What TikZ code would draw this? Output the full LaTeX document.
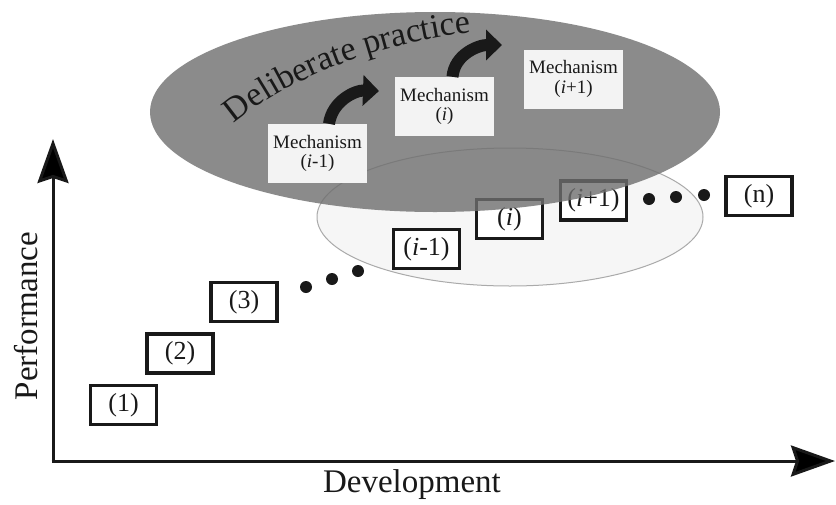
\documentclass[tikz,border=0pt]{standalone}
\usepackage{fontspec}
\setmainfont{Liberation Serif}
\usetikzlibrary{arrows.meta,decorations.text}
\definecolor{dpgray}{RGB}{110,110,110}
\definecolor{lightell}{RGB}{246,246,246}
\definecolor{lightedge}{RGB}{170,170,170}
\definecolor{mechfill}{RGB}{243,243,243}
\definecolor{inkc}{RGB}{25,25,25}
\tikzset{
  stagebox/.style={draw=inkc, line width=3.5pt, fill=white, minimum width=66pt, minimum height=39pt, inner sep=0pt, font=\fontsize{26}{26}\selectfont, text=inkc},
  mechbox/.style={fill=mechfill, minimum width=99pt, minimum height=59pt, inner sep=0pt, align=center, font=\fontsize{19}{19.5}\selectfont, text=inkc},
  stagedot/.style={circle, fill=inkc, minimum size=12pt, inner sep=0pt},
  axisline/.style={line width=3pt, draw=inkc, -{Stealth[length=44pt,width=31pt,inset=5pt]}},
  bigcurve/.style={line width=12pt, draw=inkc, -{Triangle[length=16pt,width=30pt]}},
  axislabel/.style={font=\fontsize{33}{33}\selectfont, text=inkc}
}
\begin{document}
\begin{tikzpicture}[x=1pt,y=-1pt]
\useasboundingbox (0,0) rectangle (836,504);
\fill[white] (0,0) rectangle (836,504);
% light ellipse
\draw[fill=lightell, draw=lightedge, line width=1pt] (510,217) ellipse [x radius=193, y radius=69];
% stage boxes
\node[stagebox] (s1) at (123.5,405) {(1)};
\node[stagebox] (s2) at (180,353.5) {(2)};
\node[stagebox] (s3) at (244,302) {(3)};
\node[stagedot] (d1) at (306,287) {};
\node[stagedot] (d2) at (332,279) {};
\node[stagedot] (d3) at (358,271) {};
\node[stagebox] (sim1) at (426.5,249) {(\textit{i}-1)};
\node[stagebox] (si) at (509.5,219) {(\textit{i})};
\node[stagebox] (sip1) at (593.5,200.5) {(\textit{i}+1)};
\node[stagedot] (d4) at (649,199) {};
\node[stagedot] (d5) at (676,197) {};
\node[stagedot] (d6) at (704,195) {};
\node[stagebox] (sn) at (759,196) {(n)};
% deliberate practice ellipse (translucent)
\fill[dpgray, fill opacity=0.8] (435,112) ellipse [x radius=285, y radius=100];
% mechanisms
\node[mechbox] (m1) at (317.5,153.5) {Mechanism\\(\textit{i}-1)};
\node[mechbox] (m2) at (444.5,106.5) {Mechanism\\(\textit{i})};
\node[mechbox] (m3) at (573.5,79) {Mechanism\\(\textit{i}+1)};
\coordinate (t1) at (379,91);
\coordinate (t2) at (502,45);
\draw[bigcurve] ([xshift=11.5pt]m1.north) to[out=82,in=178] (t1);
\draw[bigcurve] ([xshift=8pt]m2.north) to[out=85,in=180] (t2);
% curved title
\path[decorate, decoration={text along path, text color=inkc,
  text={|\fontsize{34}{34}\selectfont|Deliberate practice}}]
  (234,124) .. controls (286,80) and (376,42) .. (482,31);
% axes
\coordinate (origin) at (53,461);
\coordinate (ytip) at (53,139);
\coordinate (xtip) at (835,461);
\draw[axisline] ([yshift=-1.5pt]origin) -- (ytip);
\draw[axisline] ([xshift=-1.5pt]origin) -- (xtip);
\node[axislabel, rotate=90] (perf) at (26,316) {Performance};
\node[axislabel] (dev) at (412,485) {Development};
\end{tikzpicture}
\end{document}
